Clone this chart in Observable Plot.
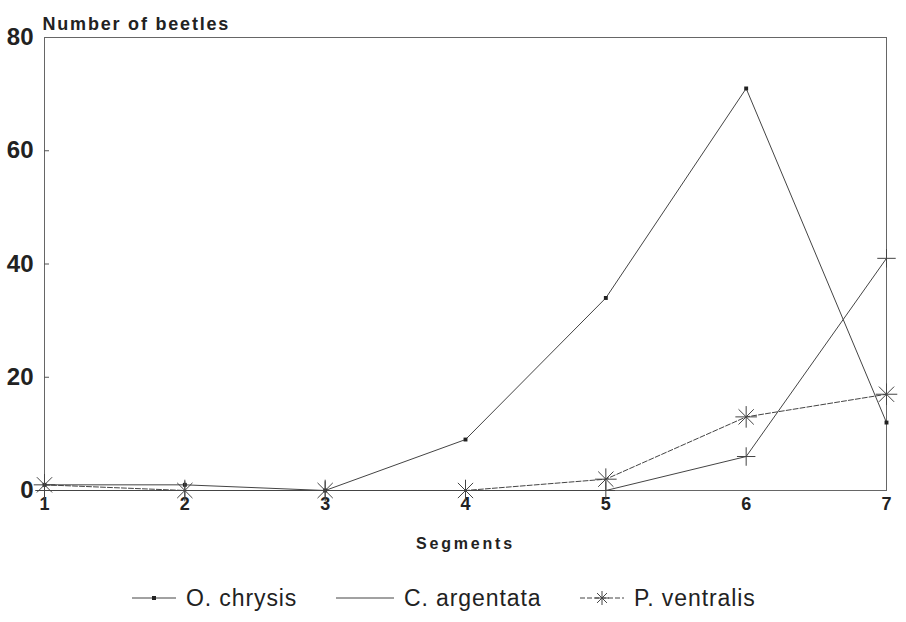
<!DOCTYPE html>
<html>
<head>
<meta charset="utf-8">
<script src="https://cdn.jsdelivr.net/npm/d3@7"></script>
<script src="https://cdn.jsdelivr.net/npm/@observablehq/plot@0.6"></script>
<style>
  html, body { margin: 0; padding: 0; background: #fff; }
  body { width: 906px; height: 622px; overflow: hidden; font-family: "Liberation Sans", Arial, sans-serif; }
  #legend { position: relative; height: 52px; }
  .item { position: absolute; top: 2px; height: 52px; display: flex; align-items: center; font-size: 23px; color: #222; letter-spacing: 0.9px; }
  .item svg { margin-right: 10px; }
  .ylab text { letter-spacing: 1.8px; }
  .xlab text { letter-spacing: 2.8px; }
</style>
</head>
<body>
<div id="chart"></div>
<div id="legend"></div>
<script>
// Data
const segments = [1, 2, 3, 4, 5, 6, 7];
const chrysis = [1, 1, 0, 9, 34, 71, 12];
const argentata = [0, 0, 0, 0, 0, 6, 41];
const ventralis = [1, 0, 0, 0, 2, 13, 17];
const seriesNames = ["O. chrysis", "C. argentata", "P. ventralis"];
const yTicks = [0, 20, 40, 60, 80];

const rows = (name, vals) => segments.map((s, i) => ({series: name, segment: s, value: vals[i]}));
const dChr = rows(seriesNames[0], chrysis);
const dArg = rows(seriesNames[1], argentata);
const dVen = rows(seriesNames[2], ventralis);

const ink = "#444";

const chart = Plot.plot({
  width: 906,
  height: 570,
  marginLeft: 44,
  marginRight: 20,
  marginTop: 37,
  marginBottom: 80,
  style: {fontFamily: "'Liberation Sans', Arial, sans-serif", color: "#222", background: "#fff"},
  x: {domain: [1, 7]},
  y: {domain: [0, 80]},
  marks: [
    Plot.frame({stroke: "#666", strokeWidth: 1}),
    Plot.axisY({ticks: yTicks, tickSize: 0, tickPadding: 11, fontSize: 24, fontWeight: "bold", label: null}),
    Plot.axisY({ticks: yTicks.slice(1, -1), tickSize: -5, text: null, label: null, stroke: "#555"}),
    Plot.axisX({ticks: segments, tickFormat: d => String(d), tickSize: 0, tickPadding: 7, fontSize: 18, fontWeight: "bold", label: null}),
    Plot.text(["Number of beetles"], {className: "ylab", frameAnchor: "top-left", textAnchor: "start", dx: -2, dy: -20, fontSize: 18, fontWeight: "bold", fill: "#222"}),
    Plot.text(["Segments"], {className: "xlab", frameAnchor: "bottom", dy: 58, fontSize: 16, fontWeight: "bold", fill: "#222"}),
    // lines
    Plot.line(dChr, {x: "segment", y: "value", stroke: ink, strokeWidth: 1}),
    Plot.line(dArg, {x: "segment", y: "value", stroke: ink, strokeWidth: 1}),
    Plot.line(dVen, {x: "segment", y: "value", stroke: ink, strokeWidth: 1, strokeDasharray: "5,2"}),
    // markers
    Plot.dot(dChr, {x: "segment", y: "value", symbol: "square", r: 2.2, fill: "#222"}),
    Plot.dot(dArg, {x: "segment", y: "value", symbol: "plus", r: 6, stroke: ink, strokeWidth: 1}),
    Plot.dot(dVen, {x: "segment", y: "value", symbol: "plus", r: 7, stroke: ink, strokeWidth: 1}),
    Plot.dot(dVen, {x: "segment", y: "value", symbol: "times", r: 7, stroke: ink, strokeWidth: 1})
  ]
});
document.getElementById("chart").append(chart);

// Legend
const legend = document.getElementById("legend");
const legendSpecs = [
  {name: seriesNames[0], left: 132, marker: "square", dash: null},
  {name: seriesNames[1], left: 336, marker: null, dash: null},
  {name: seriesNames[2], left: 580, marker: "asterisk", dash: "5,2"}
];
legendSpecs.forEach(spec => {
  const div = document.createElement("div");
  div.className = "item";
  div.style.left = spec.left + "px";
  const w = spec.name === seriesNames[1] ? 58 : 44;
  const s = d3.create("svg").attr("width", w).attr("height", 20);
  s.append("line").attr("x1", 0).attr("x2", w).attr("y1", 10).attr("y2", 10)
    .attr("stroke", ink).attr("stroke-width", 1).attr("stroke-dasharray", spec.dash);
  if (spec.marker === "square") {
    s.append("rect").attr("x", w / 2 - 2).attr("y", 8).attr("width", 4).attr("height", 4).attr("fill", "#222");
  } else if (spec.marker === "asterisk") {
    const c = w / 2, r = 7, q = r * Math.SQRT1_2;
    s.append("path").attr("d", `M${c - r},10H${c + r}M${c},${10 - r}V${10 + r}M${c - q},${10 - q}L${c + q},${10 + q}M${c - q},${10 + q}L${c + q},${10 - q}`)
      .attr("stroke", ink).attr("fill", "none");
  }
  div.append(s.node());
  const span = document.createElement("span");
  span.textContent = spec.name;
  div.append(span);
  legend.append(div);
});
</script>
</body>
</html>
